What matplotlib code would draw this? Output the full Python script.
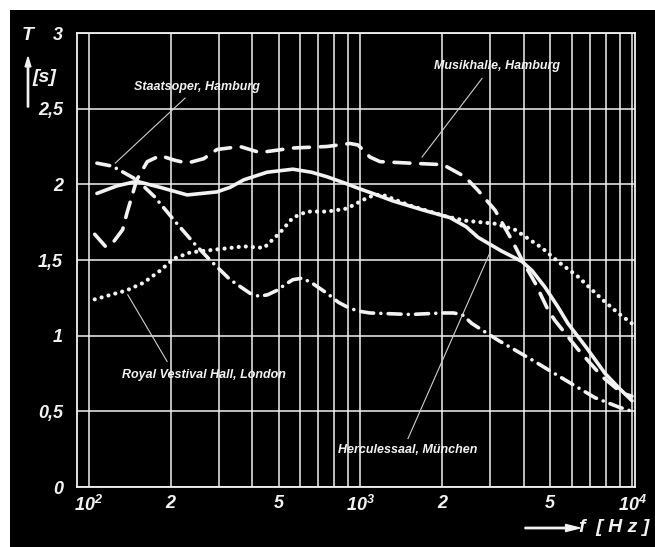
import matplotlib
matplotlib.use("Agg")
import matplotlib.pyplot as plt
from matplotlib.patches import Rectangle, FancyArrow
from matplotlib.ticker import FixedLocator, NullFormatter
from matplotlib import font_manager

names = {f.name for f in font_manager.fontManager.ttflist}
MAIN = 'Liberation Sans Narrow' if 'Liberation Sans Narrow' in names else 'Liberation Sans'
FONT = [MAIN, 'DejaVu Sans']
plt.rcParams['font.family'] = FONT
plt.rcParams['font.stretch'] = 'condensed'
plt.rcParams['mathtext.fontset'] = 'custom'
plt.rcParams['mathtext.rm'] = MAIN + ':italic:bold'
plt.rcParams['mathtext.it'] = MAIN + ':italic:bold'
plt.rcParams['mathtext.bf'] = MAIN + ':italic:bold'

# ---- data (frequency in Hz, reverberation time T in s) ----
herc_f = [107, 127, 150, 183, 230, 296, 331, 372, 453, 564, 660, 753, 870, 995,
          1150, 1318, 1700, 2136, 2450, 2709, 3300, 3935, 4283, 4783, 5336, 5811,
          6800, 7958, 9000, 10000]
herc_T = [1.94, 1.99, 2.02, 1.98, 1.93, 1.95, 1.98, 2.03, 2.08, 2.10, 2.08, 2.05, 2.01,
          1.97, 1.93, 1.89, 1.83, 1.78, 1.72, 1.65, 1.56, 1.49, 1.43, 1.32, 1.19, 1.08,
          0.92, 0.75, 0.65, 0.57]

musik_f = [105, 115, 122, 133, 138, 150, 164, 183, 206, 230, 265, 296, 360, 426, 564,
           753, 915, 979, 1084, 1180, 1521, 2013, 2426, 2709, 3128, 3614, 3935, 4393,
           4906, 5204, 6324, 7755, 9190, 10000]
musik_T = [1.67, 1.59, 1.61, 1.70, 1.81, 2.03, 2.15, 2.19, 2.16, 2.14, 2.17, 2.23, 2.25,
           2.21, 2.24, 2.25, 2.27, 2.26, 2.18, 2.15, 2.14, 2.13, 2.05, 1.96, 1.83, 1.63,
           1.50, 1.35, 1.17, 1.10, 0.91, 0.73, 0.62, 0.60]

staats_f = [107, 122, 150, 174, 211, 244, 279, 331, 392, 423, 455, 493, 530, 564, 609,
            660, 753, 830, 915, 1000, 1084, 1521, 2013, 2200, 2365, 2574, 3210, 4283,
            5521, 7305, 8879, 10000]
staats_T = [2.14, 2.12, 2.03, 1.92, 1.74, 1.61, 1.50, 1.37, 1.28, 1.26, 1.27, 1.30, 1.34,
            1.37, 1.38, 1.35, 1.28, 1.22, 1.18, 1.16, 1.15, 1.14, 1.15, 1.15, 1.14, 1.08,
            0.97, 0.84, 0.72, 0.59, 0.53, 0.50]

royal_f = [105, 138, 159, 183, 206, 236, 296, 372, 441, 505, 564, 635, 753, 891, 1056,
           1130, 1210, 1521, 2047, 2426, 3128, 3707, 4659, 5336, 6324, 7755, 8879, 10000]
royal_T = [1.24, 1.30, 1.35, 1.43, 1.51, 1.55, 1.57, 1.59, 1.58, 1.68, 1.78, 1.82, 1.82,
           1.84, 1.91, 1.93, 1.93, 1.86, 1.79, 1.76, 1.74, 1.70, 1.58, 1.49, 1.39, 1.24,
           1.15, 1.08]

y_ticks = [0, 0.5, 1, 1.5, 2, 2.5, 3]
y_labels = ['0', '0,5', '1', '1,5', '2', '2,5', '3']
x_ticks = [100, 200, 500, 1000, 2000, 5000, 10000]
x_labels = [r'$10^{2}$', '2', '5', r'$10^{3}$', '2', '5', r'$10^{4}$']

W = '#f2f2f2'

fig = plt.figure(figsize=(6.55, 5.47), dpi=100, facecolor='white')
bg = Rectangle((10 / 655, 0), 1 - 10 / 655, 1 - 10 / 547,
               transform=fig.transFigure, facecolor='black',
               edgecolor='none', zorder=-10)
fig.patches.append(bg)

ax = fig.add_axes([77 / 655, 60 / 547, 558 / 655, 454 / 547])
ax.set_zorder(1)
ax.set_facecolor('black')
ax.set_xscale('log')
ax.set_xlim(10 ** 1.956, 10 ** 4.011)
ax.set_ylim(0, 3)

for s in ax.spines.values():
    s.set_color(W)
    s.set_linewidth(1.3)

ax.xaxis.set_major_locator(FixedLocator(x_ticks))
ax.set_xticklabels(x_labels)
minors = [m * 10 ** e for e in (2, 3) for m in range(2, 10)]
ax.xaxis.set_minor_locator(FixedLocator(minors))
ax.xaxis.set_minor_formatter(NullFormatter())
ax.set_yticks(y_ticks)
ax.set_yticklabels(y_labels)
ax.tick_params(which='both', length=0, colors=W, labelsize=13)
ax.tick_params(axis='x', pad=6)
ax.tick_params(axis='y', pad=10)
for lab in ax.get_xticklabels() + ax.get_yticklabels():
    lab.set_fontstyle('italic')
    lab.set_fontweight('bold')
ax.grid(True, which='both', color=W, linewidth=1.1)
ax.set_axisbelow(True)

lw = 2.6
l1, = ax.plot(herc_f, herc_T, color=W, lw=lw, solid_capstyle='round',
              solid_joinstyle='round')
l2, = ax.plot(musik_f, musik_T, color=W, lw=lw, dashes=(4.4, 3.0))
l3, = ax.plot(staats_f, staats_T, color=W, lw=lw, dashes=(3.6, 2.0, 0.01, 2.0))
l4, = ax.plot(royal_f, royal_T, color=W, lw=3.0, dashes=(0.01, 1.7))
for ln in (l2, l3, l4):
    ln.set_dash_capstyle('round')
    ln.set_dash_joinstyle('round')

tkw = dict(color=W, fontsize=9, fontstyle='italic', fontweight='bold',
           ha='center', va='center')
lkw = dict(color='#cfcfcf', lw=0.8)

ax.text(250, 2.64, 'Staatsoper, Hamburg', **tkw)
ax.plot([226, 125], [2.57, 2.14], **lkw)
ax.text(3184, 2.78, 'Musikhalle, Hamburg', **tkw)
ax.plot([2803, 1685], [2.70, 2.18], **lkw)
ax.text(265, 0.74, 'Royal Vestival Hall, London', **tkw)
ax.plot([194, 139], [0.83, 1.27], **lkw)
ax.text(1496, 0.245, 'Herculessaal, München', **tkw)
ax.plot([1496, 3000], [0.32, 1.55], **lkw)

# axis titles
fig.text(28 / 655, 1 - 35 / 547, 'T', color=W, fontsize=14, fontstyle='italic',
         fontweight='bold', ha='center', va='center')
fig.text(44 / 655, 1 - 78 / 547, '[s]', color=W, fontsize=14, fontstyle='italic',
         fontweight='bold', ha='center', va='center')
fig.patches.append(FancyArrow(
    28 / 655, 1 - 107 / 547, 0, 50 / 547, width=0.002, head_width=0.009,
    head_length=0.018, length_includes_head=True, color=W,
    transform=fig.transFigure))
fig.patches.append(FancyArrow(
    525 / 655, 1 - 528 / 547, 55 / 655, 0, width=0.0025, head_width=0.013,
    head_length=0.022, length_includes_head=True, color=W,
    transform=fig.transFigure))
fig.text(614 / 655, 1 - 528 / 547, 'f  [ H z ]', color=W, fontsize=14,
         fontstyle='italic', fontweight='bold', ha='center', va='center')

fig.savefig('out.png', dpi=100, facecolor=fig.get_facecolor())
